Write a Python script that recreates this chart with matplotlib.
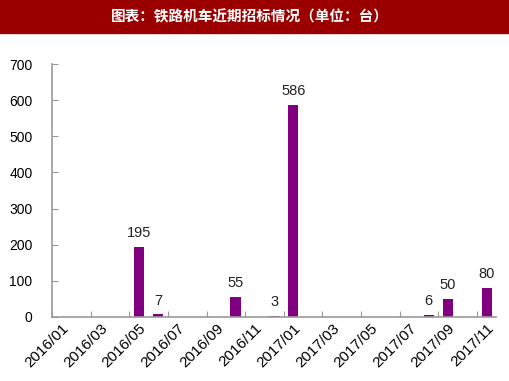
import matplotlib

matplotlib.use("Agg")
import matplotlib.pyplot as plt
import numpy as np

plt.rcParams["font.family"] = ["Liberation Sans", "DejaVu Sans"]

months = [
    "2016/01", "2016/02", "2016/03", "2016/04", "2016/05", "2016/06",
    "2016/07", "2016/08", "2016/09", "2016/10", "2016/11", "2016/12",
    "2017/01", "2017/02", "2017/03", "2017/04", "2017/05", "2017/06",
    "2017/07", "2017/08", "2017/09", "2017/10", "2017/11",
]
units = [0, 0, 0, 0, 195, 7, 0, 0, 0, 55, 0, 3, 586, 0, 0, 0, 0, 0, 0, 6, 50, 0, 80]
yticks = [0, 100, 200, 300, 400, 500, 600, 700]
title = "图表：铁路机车近期招标情况（单位：台）"

fig = plt.figure(figsize=(5.1, 3.81), dpi=100)
ax = fig.add_axes([0.102, 0.168, 0.871, 0.664])

x = np.arange(len(months))
ax.bar(x, units, width=0.52, color="#800080", zorder=2)
for xi, v in zip(x, units):
    if v > 0:
        ax.annotate(str(v), (xi, v), xytext=(0, 5), textcoords="offset points",
                    ha="center", va="bottom", fontsize=10.5, color="#222222")

ax.set_xlim(-0.5, len(months) - 0.5)
ax.set_ylim(0, 700)
ax.set_yticks(yticks)

# tick marks on category boundaries, labels on every second month
ax.set_xticks(np.arange(-0.5, len(months), 2))
ax.set_xticklabels([])
ax.set_xticks(x[::2], minor=True)
ax.set_xticklabels(months[::2], minor=True, rotation=45, ha="right",
                   rotation_mode="anchor", fontsize=11)
ax.tick_params(axis="x", which="minor", length=0, pad=3)
ax.tick_params(axis="x", which="major", direction="in", length=4, color="#999999")
ax.tick_params(axis="y", direction="in", length=4, color="#999999", pad=14, labelsize=10)

for side in ["top", "right"]:
    ax.spines[side].set_visible(False)
for side in ["left", "bottom"]:
    ax.spines[side].set_color("#999999")
    ax.spines[side].set_linewidth(1.2)

fig.patches.append(plt.Rectangle((0, 1 - 33 / 381), 1, 33 / 381, transform=fig.transFigure,
                                 color="#9B0000", zorder=0))
fig.text(0.49, 1 - 16.5 / 381, title, ha="center", va="center", color="white",
         fontsize=10.5, fontweight="bold",
         family=["Noto Sans CJK SC", "DejaVu Sans"])

fig.savefig("out.png", dpi=100)
